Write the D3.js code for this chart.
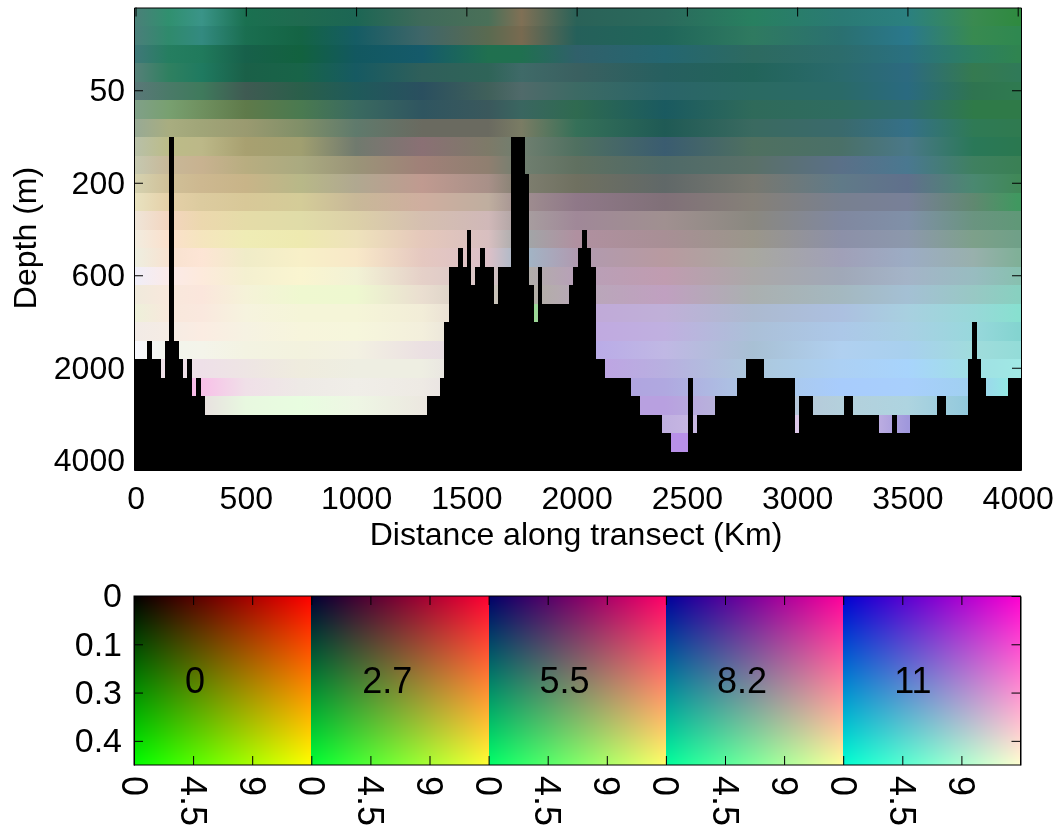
<!DOCTYPE html>
<html><head><meta charset="utf-8">
<script src="https://cdn.jsdelivr.net/npm/d3@7"></script>
<style>
html,body{margin:0;padding:0;background:#fff;width:1055px;height:826px;overflow:hidden}
canvas,svg{position:absolute;left:0;top:0}
text{font-family:"Liberation Sans",Arial,sans-serif;fill:#000}
</style></head><body>
<script>
// Depth rows (top to bottom); only every fifth carries a label
const rowNumbers = d3.range(1, 26);
const depthTickRows = [5, 10, 15, 20, 25];
const depthTickLabels = ["50", "200", "600", "2000", "4000"];
const distanceTicks = [0, 500, 1000, 1500, 2000, 2500, 3000, 3500, 4000];

const readingKm = [0,150,300,500,750,1000,1300,1600,1750,2000,2400,2800,3200,3500,3800,4000];

// Per row, per reading: three fields packed as 2 hex digits each (field X, field Y, field Z)
const sectionReadings = [
"4a8078 30906f 3a9488 1a7050 1f6a4f 1c6654 3f6a5a 4a7058 807055 2a6258 2a6a5c 288060 2a7a74 2b8080 3a8a50 2f8a40",
"4a7f7a 2f8a6c 338a80 1a6e50 146444 155c64 3f6668 5a6a50 786a50 25605a 20665a 2f7a60 2a7070 2a788c 388a50 2f8850",
"3f7878 257e60 207a5c 17604a 12623f 125860 155a6a 20704f 207050 30606a 246670 2d6a60 2c6c6c 2a7080 2d7f60 2f8450",
"558078 2f8060 1f7a60 1a6048 186448 165a62 2f5f5a 2f6458 3f6a68 3a6060 265f5f 22645a 2a6a6c 2c6a80 357a50 307a58",
"5a7878 4a7a68 3f7a5c 3f5a52 2a5f4a 1f5a5a 2a4f5f 40605a 506a6a 3c6a64 2a6468 2a6a62 2a6a68 2a6a80 2f7450 2f7a50",
"80a088 78a070 6f905f 5f7a4a 4a7a50 3a6a60 2f5560 3a585c 3a6660 2f6a50 1a5a60 2f6a5a 2f6c60 2f6c70 2f7a48 2f7a48",
"98aa95 a8ad80 a0a578 9a9a70 808f68 5f7a6c 6a6a60 6a6a60 7a7c64 357058 1f5a55 3a6a60 3a6a6c 357088 2f7a55 2f7a50",
"b8c0a8 bcbc88 bcb888 a8a070 a09f70 707a6e 8a7074 7d7a68 707f70 4f7060 3a5c70 4f7060 4a7068 4a7888 2a7858 2a7850",
"c5c8b0 c8b898 c8b290 b8ad80 aaaa80 9a9478 a08078 8f7f70 707f70 607060 4f6a68 5a7068 5a7088 4a7890 3f8060 3a8055",
"d5d2b0 d0c098 cdb890 c8b488 b8b888 b0a890 c09a90 a89088 7f7f70 6f7060 606868 787870 607a88 60708c 4a8870 408858",
"e8e2c0 e5d0a8 dccb9f d8c898 d4cc98 c8b898 cfae9f bfae9f a08f90 8f7888 807078 858078 788090 788098 608870 409860",
"efe5d8 f3d5bf ecd8ae e5dca8 e0dca8 dcd0a8 d5bfb0 d0b8b8 a8a0a0 a08898 a09090 8a8880 8088a0 8090a8 6a9480 609878",
"f2ecdf fbe0cc f5e5be efecb5 eeeab0 eee2bb e5c8bb d8bfc0 a0a8a8 b090a0 a88f95 9a968a 8c90a8 8c98ac 7da08a 70a088",
"eeeee0 f8e2d0 fde5d5 f0ecc8 f8f0c8 f8e8c8 e5c8c0 dcc0c8 a0b8c8 b09ab0 b89aa0 a8a8a0 a0a0b8 9cacc4 98b0ac 80b098",
"f0eef8 fbeae8 fdeadc f4f0d0 faf5d0 f2f2d5 e5d0c8 d8c4c8 b0b0a8 b8a0b8 c09cb0 aaa8a8 a0a8b8 a4b4c8 98bcc0 88c0b0",
"f0eadc f8e8dc fbe6dc f5f2d8 eff8d0 eef8d0 eaded0 d0c8c0 b0b0a0 b8a8b8 c0a0c0 aab0b0 a4b8c0 a4c0d4 98c8c4 88d0c0",
"eef0da f8e8dc fae8de f6f3de f5f5d8 f5f5d8 f2edd8 e0d0d0 90e880 c0a8d8 c0b0d8 acbad0 acc0e0 a8d0e0 98d8d8 88e0d0",
"f2ebe6 f5ece4 fbece2 f6f2e2 f7f5dc f6f6dc f3efdc e0d8d8 d0c0d8 c0a8e0 c0b0e0 abc0d8 acc8e8 a8d0e4 98d8dc 84d4d0",
"f8f8fd f2f4ec f4f4ea f3f3e2 f3f2de f3f1e2 ebe0e2 e0d8e0 d0c0e0 b8a8e8 c0b8e4 a8c0d4 b0d0f0 a8d0ee a0dcdc 94dcd8",
"f0e8ec f0e0e8 eee0e8 eee5e4 efecde eeeee2 eeeee2 e0d8e0 d0c0e0 c0a0e4 b8b0e0 acc8dc acd0f4 a8d4fc a0e0e4 a0e8e4",
"f8b0e8 f8b0e8 f8c0e8 f0e0e8 eeeae6 f0eee8 eeeae4 e0d8e0 d0c0e0 b0a0e0 b0a8e0 acc8e4 a8ccfc a8cffc a0d0f0 90f0e0",
"e8e0e0 e8e0e0 e8e0e0 e8f8e0 e8fde0 eef6e4 ece8e0 e0d8e0 d0c0e0 b8a0e0 b8a0e0 b8c0d8 b4d0dc aed4e0 90c8dc 90e0e0",
"e0d8e0 e0d8e0 e0d8e0 e0d8e0 e0d8e0 e0d8e0 e0d8e0 e0d8e0 d0c0e0 b8a0e0 c0b0e0 d8c8e8 e0c8e8 a098dc a098dc a098dc",
"b890e8 b890e8 b890e8 b890e8 b890e8 b890e8 b890e8 b890e8 b890e8 b890e8 b890e8 b890e8 b890e8 b890e8 b890e8 b890e8",
"b890e8 b890e8 b890e8 b890e8 b890e8 b890e8 b890e8 b890e8 b890e8 b890e8 b890e8 b890e8 b890e8 b890e8 b890e8 b890e8"
];

// First row hidden by the sea floor, one entry per station
const seaFloorRow = [
20,20,20,19,20,20,21,19,8,19,
20,21,20,22,21,22,23,23,23,23,
23,23,23,23,23,23,23,23,23,23,
23,23,23,23,23,23,23,23,23,23,
23,23,23,23,23,23,23,23,23,23,
23,23,23,23,23,23,23,23,23,23,
23,23,23,23,23,23,22,22,22,21,
18,15,15,14,15,13,16,15,14,15,
15,17,15,15,15,8,8,8,10,16,
18,15,17,17,17,17,17,17,16,15,
14,13,14,15,20,20,21,21,21,21,
21,21,22,22,23,23,23,23,23,24,
24,25,25,25,25,21,24,23,23,23,
23,22,22,22,22,22,21,21,20,20,
20,20,21,21,21,21,21,21,21,24,
22,22,22,23,23,23,23,23,23,23,
22,22,23,23,23,23,23,23,24,24,
24,23,24,24,24,23,23,23,23,23,
23,22,22,23,23,23,23,23,20,18,
20,21,22,22,22,22,22,21,21,21
];

// Colour key
const keyZValues = [0, 2.7, 5.5, 8.2, 11];
const keyZLabels = ["0", "2.7", "5.5", "8.2", "11"];
const keyXTicks = [0, 4.5, 9];
const keyXLabels = ["0", "4.5", "9"];
const keyYTicks = [0, 0.13, 0.26, 0.39];
const keyYLabels = ["0", "0.1", "0.3", "0.4"];
const fieldMax = 13.5, keyYMax = 0.455;

const W = 1055, H = 826;
const main = {l:134, r:1021, t:7.5, b:470};
const key = {l:134, r:1020.5, t:596, b:765};
const FS = 32, KFS = 34, KRFS = 36;

// Scales
const xKm = d3.scaleLinear().domain([-7, 4015]).range([main.l, main.r]);
const xStation = d3.scaleBand().domain(d3.range(seaFloorRow.length)).range([main.l, main.r]);
const yRow = d3.scaleBand().domain(rowNumbers).range([main.t, main.b]);
const chX = d3.scaleLinear().domain([0, 255]).range([0, fieldMax]);  // packed digit -> field value
const fieldToChannel = d3.scaleLinear().domain([0, fieldMax]).range([0, 255]).clamp(true);

const svg = d3.select("body").append("svg").attr("width", W).attr("height", H);
const defs = svg.append("defs");

// Section rows, each with horizontal gradient through its readings
sectionReadings.forEach((row, i) => {
  const vals = row.split(" ").map(h => {
    const n = parseInt(h, 16);
    return [chX(n >> 16), chX((n >> 8) & 255), chX(n & 255)];
  });
  const g = defs.append("linearGradient").attr("id", "row" + i)
    .attr("gradientUnits", "userSpaceOnUse")
    .attr("x1", main.l).attr("x2", main.r).attr("y1", 0).attr("y2", 0);
  g.selectAll("stop").data(vals).join("stop")
    .attr("offset", (d, j) => Math.max(0, (xKm(readingKm[j]) - main.l) / (main.r - main.l)))
    .attr("stop-color", d => d3.rgb(fieldToChannel(d[0]), fieldToChannel(d[1]), fieldToChannel(d[2])).formatHex());
});
svg.append("g").attr("shape-rendering", "crispEdges").selectAll("rect").data(rowNumbers).join("rect")
  .attr("x", main.l).attr("width", main.r - main.l)
  .attr("y", d => yRow(d)).attr("height", yRow.bandwidth() + 0.6)
  .attr("fill", (d, i) => `url(#row${i})`);

// Sea floor
svg.append("g").attr("shape-rendering", "crispEdges").selectAll("rect").data(seaFloorRow).join("rect")
  .attr("x", (d, i) => xStation(i)).attr("width", xStation.bandwidth() + 0.4)
  .attr("y", d => yRow(d)).attr("height", d => main.b - yRow(d))
  .attr("fill", "#000");

function styleAxis(g, size) {
  g.selectAll("text").style("font-size", size + "px").style("font-family", '"Liberation Sans",Arial,sans-serif').attr("fill", "#000");
  g.selectAll("line").attr("stroke", "#000").attr("stroke-width", 1);
  g.select(".domain").attr("stroke", "#000").attr("stroke-width", 1);
}

// Section axes
const axY = d3.axisLeft(yRow).tickValues(depthTickRows).tickFormat((d, i) => depthTickLabels[i]).tickSizeInner(-9).tickSizeOuter(0).tickPadding(9);
svg.append("g").attr("transform", `translate(${main.l},0)`).call(axY).call(styleAxis, FS);
svg.append("g").attr("transform", `translate(${main.r},0)`).call(d3.axisRight(yRow).tickValues(depthTickRows).tickFormat("").tickSizeInner(-9).tickSizeOuter(0)).call(styleAxis, FS);
const axX = d3.axisBottom(xKm).tickValues(distanceTicks).tickFormat(d3.format("d")).tickSizeInner(-9).tickSizeOuter(0).tickPadding(16);
svg.append("g").attr("transform", `translate(0,${main.b})`).call(axX).call(styleAxis, FS);
svg.append("g").attr("transform", `translate(0,${main.t})`).call(d3.axisTop(xKm).tickValues(distanceTicks).tickFormat("").tickSizeInner(-9).tickSizeOuter(0)).call(styleAxis, FS);

svg.append("text").attr("x", 576).attr("y", 545).attr("text-anchor", "middle").style("font-size", FS + "px").text("Distance along transect (Km)");
svg.append("text").attr("transform", "translate(36,238) rotate(-90)").attr("text-anchor", "middle").style("font-size", FS + "px").text("Depth (m)");

// Colour key
const panelW = (key.r - key.l) / keyZValues.length;
const xPanel = d3.scaleBand().domain(keyZValues).range([key.l, key.r]);
const yKey = d3.scaleLinear().domain([0, keyYMax]).range([key.t, key.b]);
const cv = d3.select("body").insert("canvas", "svg").attr("width", W).attr("height", H).node();
const ctx = cv.getContext("2d");
keyZValues.forEach(z => {
  const left = Math.round(xPanel(z)), right = Math.round(xPanel(z) + panelW);
  const xKey = d3.scaleLinear().domain([0, fieldMax]).range([xPanel(z), xPanel(z) + panelW]);
  const img = ctx.createImageData(right - left, key.b - key.t);
  for (let py = 0; py < img.height; py++) for (let px = 0; px < img.width; px++) {
    const k = (py * img.width + px) * 4;
    img.data[k] = fieldToChannel(xKey.invert(left + px + 0.5));
    img.data[k + 1] = fieldToChannel(yKey.invert(key.t + py + 0.5) / keyYMax * fieldMax);
    img.data[k + 2] = fieldToChannel(z);
    img.data[k + 3] = 255;
  }
  ctx.putImageData(img, left, key.t);
});

svg.append("rect").attr("x", key.l).attr("y", key.t).attr("width", key.r - key.l).attr("height", key.b - key.t).attr("fill", "none").attr("stroke", "#000");
svg.append("g").attr("transform", `translate(${key.l},0)`)
  .call(d3.axisLeft(yKey).tickValues(keyYTicks).tickFormat((d, i) => keyYLabels[i]).tickSizeInner(-9).tickSizeOuter(0).tickPadding(12)).call(styleAxis, KFS);
svg.append("g").attr("transform", `translate(${key.r},0)`)
  .call(d3.axisRight(yKey).tickValues(keyYTicks).tickFormat("").tickSizeInner(-9).tickSizeOuter(0)).call(styleAxis, KFS);

keyZValues.forEach((z, idx) => {
  const xKey = d3.scaleLinear().domain([0, fieldMax]).range([xPanel(z), xPanel(z) + panelW]);
  const b = svg.append("g").attr("transform", `translate(0,${key.b})`)
    .call(d3.axisBottom(xKey).tickValues(keyXTicks).tickFormat((d, i) => keyXLabels[i]).tickSizeInner(-9).tickSizeOuter(0).tickPadding(10)).call(styleAxis, KRFS);
  b.select(".domain").remove();
  b.selectAll("text").attr("transform", "rotate(90)").attr("x", 11).attr("y", 0).attr("dy", "0.36em").attr("text-anchor", "start");
  svg.append("g").attr("transform", `translate(0,${key.t})`)
    .call(d3.axisTop(xKey).tickValues(keyXTicks).tickFormat("").tickSizeInner(-9).tickSizeOuter(0)).call(styleAxis, KRFS)
    .select(".domain").remove();
  svg.append("text").attr("x", xPanel(z) + 51).attr("y", 693).style("font-size", KRFS + "px").text(keyZLabels[idx]);
});
</script>
</body></html>
